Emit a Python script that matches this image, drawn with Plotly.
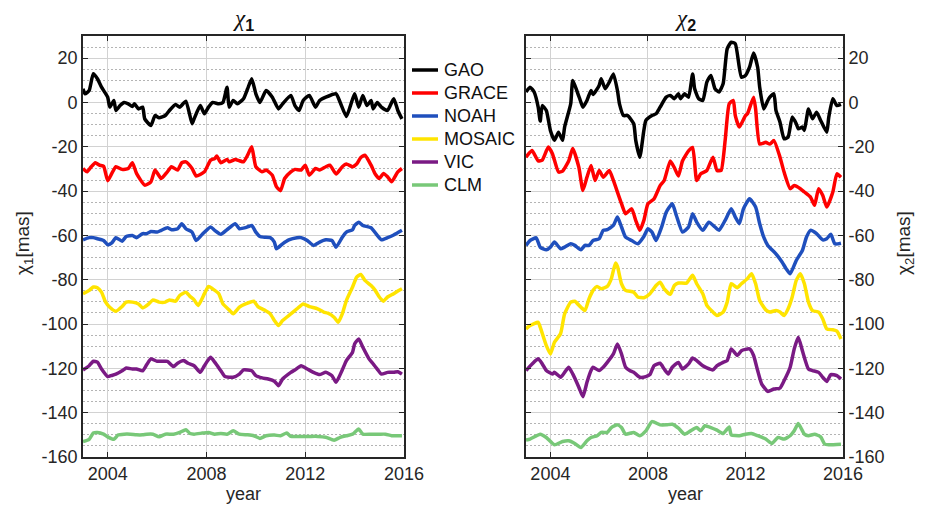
import plotly.graph_objects as go

# Monthly excitation series, stored as (months since Jan 2003, value in mas)
GAO_X1 = [(0, 6.2), (1, 3.9), (3, 5.4), (5, 13.0), (7, 10.7), (9, 6.9), (12, 2.4), (13, -2.1), (15, 0.9),
          (16, -3.6), (18, -1.4), (20, 0.0), (22, -0.6), (24, -1.8), (25, -0.6), (27, -2.9), (29, -2.1),
          (30, -7.4), (33, -10.4), (35, -5.9), (37, -6.9), (40, -5.9), (42, -3.6), (45, -0.9), (47, -2.1),
          (50, 0.6), (53, -9.6), (54, -7.4), (57, -1.4), (59, -5.1), (61, -2.1), (63, 0.0), (66, -0.6),
          (68, 0.0), (70, 6.9), (71, -2.1), (73, 0.9), (75, -0.6), (78, 1.7), (80, 6.2), (82, 10.7),
          (84, 3.9), (86, 0.0), (89, 5.4), (92, 2.4), (95, -2.9), (97, -0.6), (101, 3.2), (103, -1.4),
          (105, -3.6), (107, 0.9), (110, 3.2), (113, -2.1), (115, 0.9), (118, 2.4), (123, 3.9), (125, 0.0),
          (128, -6.3), (130, -1.4), (132, 3.9), (134, -2.1), (136, 3.2), (138, -1.4), (140, 0.9), (141, -2.9),
          (143, 0.0), (145, -2.1), (148, -3.6), (151, 1.7), (153, -3.6), (155, -7.4)]
GRACE_X1 = [(0, -29.8), (2, -31.3), (4, -29.0), (6, -27.2), (8, -28.3), (10, -28.8), (12, -35.3), (14, -32.0),
            (16, -29.0), (19, -30.2), (22, -29.8), (24, -27.2), (26, -32.0), (30, -37.3), (33, -35.8),
            (35, -30.5), (38, -34.3), (41, -31.3), (43, -29.0), (46, -30.5), (48, -27.2), (50, -26.8),
            (53, -29.8), (55, -33.2), (59, -31.3), (62, -26.0), (64, -25.3), (65, -24.2), (67, -27.2),
            (70, -25.7), (71, -26.8), (74, -25.7), (76, -26.3), (78, -26.8), (80, -23.8), (82, -20.0),
            (84, -29.0), (87, -31.3), (89, -30.5), (92, -32.8), (94, -38.0), (96, -39.8), (98, -34.3),
            (101, -31.3), (103, -30.2), (106, -30.5), (108, -28.3), (110, -32.8), (113, -29.8), (115, -30.5),
            (118, -29.0), (120, -28.3), (123, -32.3), (126, -29.0), (128, -27.8), (131, -29.0), (133, -27.8),
            (135, -24.8), (137, -23.8), (140, -28.3), (142, -32.3), (144, -34.3), (146, -32.0), (148, -33.5),
            (150, -35.8), (153, -31.3), (155, -29.8)]
NOAH_X1 = [(0, -62.0), (3, -61.0), (5, -61.0), (7, -61.5), (10, -62.3), (12, -64.2), (14, -63.4), (16, -61.0),
           (19, -62.6), (21, -60.5), (24, -60.0), (26, -61.0), (29, -59.2), (31, -59.2), (33, -58.2), (36, -58.5),
           (38, -57.7), (41, -56.5), (43, -57.4), (46, -57.0), (48, -54.7), (50, -57.0), (53, -58.5), (55, -62.3),
           (58, -59.5), (62, -56.2), (64, -57.7), (67, -59.5), (70, -57.4), (74, -54.7), (76, -57.0), (79, -56.5),
           (82, -55.5), (84, -58.5), (86, -60.5), (88, -60.8), (91, -61.0), (93, -63.0), (94, -66.0), (97, -63.8),
           (100, -62.0), (104, -61.0), (106, -61.0), (109, -62.3), (112, -64.5), (115, -63.0), (118, -62.0),
           (121, -62.3), (123, -65.3), (126, -60.8), (128, -58.5), (131, -57.4), (132, -55.5), (134, -54.0),
           (136, -55.5), (140, -56.5), (143, -60.0), (145, -62.0), (148, -61.0), (151, -59.8), (155, -57.7)]
MOSAIC_X1 = [(0, -86.3), (3, -84.8), (5, -83.3), (7, -83.6), (9, -85.6), (11, -90.1), (13, -92.4), (16, -94.2),
             (19, -92.1), (21, -90.1), (24, -90.1), (27, -90.9), (29, -92.7), (32, -90.9), (34, -89.1), (37, -90.1),
             (40, -90.1), (42, -89.1), (45, -89.7), (47, -87.1), (50, -85.6), (52, -87.5), (54, -89.1), (56, -91.6),
             (59, -86.3), (61, -83.0), (63, -84.1), (66, -86.3), (68, -90.9), (71, -93.6), (73, -95.4), (76, -92.4),
             (79, -90.9), (83, -89.7), (85, -92.1), (88, -93.6), (91, -95.4), (93, -98.4), (95, -100.7), (97, -98.4),
             (101, -95.4), (104, -93.1), (107, -90.9), (110, -92.1), (114, -93.1), (117, -94.6), (119, -95.1),
             (122, -96.9), (124, -99.2), (126, -95.4), (128, -89.4), (131, -83.3), (133, -78.8), (135, -77.6),
             (137, -80.3), (140, -82.6), (142, -84.8), (144, -87.8), (146, -89.7), (148, -87.8), (151, -86.3),
             (153, -85.1), (155, -84.1)]
VIC_X1 = [(0, -120.7), (3, -118.8), (5, -116.8), (7, -117.2), (9, -120.3), (12, -123.7), (14, -123.2),
          (16, -122.6), (19, -121.1), (21, -119.8), (24, -120.3), (26, -120.3), (29, -121.1), (31, -118.3),
          (33, -115.7), (36, -116.8), (39, -116.8), (41, -116.8), (44, -119.2), (46, -117.7), (49, -116.5),
          (51, -117.7), (54, -118.8), (57, -121.8), (59, -118.8), (62, -115.0), (64, -117.2), (67, -121.1),
          (69, -123.7), (73, -124.0), (76, -122.6), (78, -120.7), (82, -121.1), (84, -123.3), (87, -124.3),
          (90, -124.8), (93, -125.8), (95, -127.8), (97, -124.8), (101, -121.8), (103, -120.7), (106, -118.8),
          (109, -120.3), (112, -121.8), (115, -122.8), (118, -121.8), (121, -123.3), (123, -126.3), (126, -120.7),
          (128, -116.5), (131, -112.7), (132, -109.0), (134, -106.7), (136, -110.5), (139, -115.7), (141, -118.0),
          (143, -120.3), (145, -122.6), (148, -121.8), (151, -121.8), (153, -121.5), (155, -122.6)]
CLM_X1 = [(0, -153.0), (3, -152.0), (5, -149.2), (7, -148.9), (10, -149.7), (12, -150.9), (15, -152.0),
          (17, -150.1), (20, -149.7), (23, -149.7), (26, -150.0), (29, -150.0), (31, -149.7), (34, -149.7),
          (37, -150.9), (40, -149.7), (44, -149.7), (47, -148.9), (50, -147.7), (52, -149.4), (54, -149.7),
          (58, -149.2), (61, -148.9), (64, -149.7), (67, -149.4), (70, -149.7), (73, -148.2), (76, -149.7),
          (80, -150.0), (83, -150.4), (86, -151.6), (89, -150.4), (93, -150.1), (96, -150.4), (99, -149.2),
          (101, -150.7), (106, -150.7), (110, -150.7), (114, -150.7), (118, -151.1), (122, -152.4), (125, -151.1),
          (128, -150.4), (131, -149.7), (134, -147.4), (136, -149.7), (140, -149.7), (144, -149.7), (147, -149.7),
          (150, -150.4), (155, -150.4)]

GAO_X2 = [(0, 4.7), (2, 6.9), (4, 4.7), (6, -2.1), (7, -8.4), (8, -1.4), (10, -3.6), (12, -12.6), (14, -17.1),
          (16, -13.4), (18, -17.1), (19, -11.1), (22, -0.6), (23, 9.9), (25, 5.4), (27, 0.2), (28, -2.1), (30, 0.9),
          (32, 5.4), (33, 3.6), (36, 7.7), (37, 10.7), (39, 6.2), (41, 9.2), (43, 12.9), (45, 5.4), (46, -0.6),
          (48, -5.9), (50, -5.9), (53, -9.6), (54, -17.1), (56, -24.7), (58, -12.6), (59, -8.1), (62, -5.9),
          (64, -5.1), (66, -2.1), (69, 2.4), (71, 3.2), (73, 1.7), (75, 3.9), (76, 1.7), (78, 3.9), (80, 2.4),
          (82, 12.9), (83, 6.2), (85, 1.7), (87, 0.9), (89, 9.2), (91, 12.2), (93, 6.2), (95, 4.7), (97, 8.4),
          (99, 24.2), (101, 27.2), (103, 26.5), (106, 11.4), (108, 12.2), (110, 15.9), (112, 22.3), (114, 15.9),
          (115, 6.9), (117, -2.9), (119, 0.9), (120, 2.4), (122, 3.9), (123, -3.6), (125, -8.9), (127, -16.4),
          (129, -15.6), (131, -6.6), (133, -9.6), (134, -11.9), (136, -11.1), (137, -12.6), (139, -2.9),
          (141, -7.4), (143, -4.4), (145, -8.1), (148, -13.4), (149, -6.6), (151, 1.7), (153, -1.4), (155, -0.9)]
GRACE_X2 = [(0, -24.7), (3, -21.7), (6, -26.4), (8, -26.0), (11, -20.1), (13, -23.1), (16, -31.4), (18, -31.0),
            (21, -26.4), (23, -20.8), (26, -29.2), (28, -39.7), (30, -33.7), (32, -28.4), (34, -35.2), (36, -30.7),
            (38, -33.7), (41, -30.7), (43, -35.2), (47, -45.7), (49, -50.2), (52, -48.0), (54, -53.2), (56, -57.7),
            (58, -53.2), (60, -45.7), (63, -43.5), (66, -37.5), (68, -35.2), (71, -26.4), (73, -29.4), (75, -33.2),
            (77, -26.4), (80, -21.8), (82, -20.3), (84, -35.2), (86, -32.2), (89, -30.7), (92, -24.7), (94, -30.7),
            (96, -30.7), (98, -17.2), (100, -0.6), (102, 0.9), (103, -5.9), (105, -11.1), (108, -5.9), (109, -5.1),
            (112, 2.4), (113, -3.0), (115, -18.8), (118, -18.0), (120, -18.8), (122, -17.2), (125, -24.7),
            (127, -31.4), (130, -38.9), (132, -37.5), (135, -38.9), (137, -40.4), (140, -42.7), (142, -46.4),
            (144, -38.9), (146, -41.9), (148, -47.2), (151, -40.4), (153, -32.2), (155, -33.7)]
NOAH_X2 = [(0, -64.5), (2, -62.3), (5, -61.1), (7, -65.3), (10, -66.5), (12, -65.3), (14, -63.0), (17, -66.0),
           (19, -65.3), (22, -63.8), (24, -64.5), (27, -66.5), (29, -64.5), (31, -64.5), (33, -62.3), (36, -61.5),
           (38, -57.7), (40, -57.4), (43, -55.5), (45, -51.7), (47, -56.2), (49, -60.8), (52, -62.3), (55, -63.8),
           (58, -60.5), (60, -57.0), (62, -58.5), (64, -62.3), (67, -55.5), (69, -49.5), (72, -45.7), (74, -51.0),
           (77, -58.5), (80, -56.2), (82, -50.2), (84, -54.0), (87, -57.7), (90, -54.0), (93, -56.2), (95, -57.7),
           (98, -53.2), (101, -48.0), (103, -51.7), (105, -54.7), (107, -48.0), (110, -43.5), (113, -47.2),
           (115, -54.7), (117, -60.8), (119, -64.5), (123, -68.3), (126, -72.0), (128, -75.0), (130, -77.3),
           (133, -71.3), (136, -66.8), (138, -60.8), (140, -57.7), (143, -59.2), (146, -62.0), (148, -61.5),
           (150, -59.5), (152, -63.8), (155, -63.5)]
MOSAIC_X2 = [(0, -102.2), (2, -100.7), (6, -99.2), (7, -101.4), (10, -109.7), (12, -113.5), (14, -108.2),
             (17, -104.4), (19, -95.4), (22, -90.1), (24, -89.7), (27, -92.4), (29, -93.9), (31, -88.6), (33, -84.8),
             (35, -83.0), (37, -84.1), (40, -83.0), (42, -79.5), (44, -72.5), (45, -74.0), (47, -81.8), (49, -84.8),
             (53, -85.6), (55, -87.8), (58, -88.1), (61, -86.3), (64, -82.6), (66, -81.1), (68, -84.1), (71, -86.6),
             (73, -82.6), (75, -81.5), (79, -81.5), (82, -78.0), (84, -81.8), (87, -86.3), (89, -91.6), (92, -94.6),
             (94, -96.1), (97, -94.6), (99, -90.1), (101, -81.8), (104, -83.6), (106, -81.8), (109, -79.5),
             (111, -77.3), (113, -81.8), (115, -89.4), (118, -93.6), (120, -94.6), (123, -93.9), (125, -94.6),
             (127, -96.1), (129, -93.1), (131, -87.8), (133, -80.3), (135, -77.3), (137, -81.8), (139, -90.1),
             (141, -93.9), (144, -94.6), (146, -97.6), (148, -102.2), (151, -102.6), (153, -103.2), (155, -106.7)]
VIC_X2 = [(0, -121.0), (3, -118.0), (6, -115.7), (8, -118.0), (10, -121.0), (13, -122.5), (14, -121.8),
          (17, -124.0), (19, -121.8), (21, -119.5), (23, -122.5), (26, -128.5), (28, -132.8), (30, -126.3),
          (32, -121.0), (33, -119.5), (36, -121.0), (38, -119.5), (40, -117.3), (43, -113.5), (45, -109.0),
          (47, -113.5), (49, -119.5), (51, -121.0), (53, -121.8), (56, -124.0), (59, -123.7), (61, -122.8),
          (63, -118.8), (66, -117.7), (68, -120.3), (70, -122.5), (72, -119.5), (75, -117.3), (77, -120.3),
          (80, -118.0), (82, -115.3), (84, -116.5), (87, -118.8), (89, -119.8), (92, -120.7), (94, -118.8),
          (97, -117.3), (99, -116.5), (101, -111.2), (104, -114.2), (106, -112.0), (110, -111.2), (112, -114.2),
          (114, -121.0), (116, -127.1), (119, -130.4), (122, -129.3), (125, -128.9), (127, -125.6), (130, -119.5),
          (132, -111.2), (134, -105.9), (136, -112.0), (139, -120.3), (141, -121.0), (144, -121.8), (146, -124.0),
          (148, -125.9), (150, -122.8), (153, -123.3), (155, -124.8)]
CLM_X2 = [(0, -152.4), (2, -151.9), (7, -149.7), (10, -151.2), (14, -154.5), (18, -153.0), (21, -152.7),
          (24, -153.9), (27, -155.7), (30, -152.7), (32, -151.2), (35, -150.4), (37, -148.9), (40, -148.9),
          (42, -146.7), (45, -145.5), (47, -146.7), (49, -149.7), (53, -148.9), (56, -150.4), (59, -148.2),
          (62, -144.0), (66, -145.5), (69, -145.5), (72, -145.2), (75, -147.0), (78, -149.7), (81, -148.2),
          (84, -146.7), (86, -148.2), (88, -145.9), (91, -146.7), (94, -147.9), (97, -149.4), (100, -146.4),
          (101, -150.0), (105, -150.4), (108, -149.7), (111, -149.4), (114, -150.4), (118, -151.9), (121, -153.9),
          (124, -151.2), (127, -151.9), (130, -150.4), (132, -148.2), (134, -144.9), (137, -149.7), (139, -150.4),
          (142, -149.7), (145, -150.9), (147, -154.2), (149, -154.5), (155, -154.2)]

MODELS = ["GAO", "GRACE", "NOAH", "MOSAIC", "VIC", "CLM"]
COLORS = ["#000000", "#ff0000", "#1f4fbd", "#ffe400", "#7a1a84", "#78c878"]
SERIES_X1 = [GAO_X1, GRACE_X1, NOAH_X1, MOSAIC_X1, VIC_X1, CLM_X1]
SERIES_X2 = [GAO_X2, GRACE_X2, NOAH_X2, MOSAIC_X2, VIC_X2, CLM_X2]
YEAR_TICKS = [2004, 2008, 2012, 2016]
VALUE_TICKS = [-160, -140, -120, -100, -80, -60, -40, -20, 0, 20]

W, H = 926, 505
FONT = "Liberation Sans, Arial, sans-serif"
TXT = "#262626"
LINE_W = 3.5


def px(x):
    return x / W


def py(y):
    return 1 - y / H


fig = go.Figure()
for panel, series_set in ((1, SERIES_X1), (2, SERIES_X2)):
    for name, color, pairs in zip(MODELS, COLORS, series_set):
        years = [2003 + m / 12 for m, _ in pairs]
        vals = [v for _, v in pairs]
        fig.add_trace(go.Scatter(
            x=years, y=vals, mode="lines", name=name,
            line=dict(color=color, width=LINE_W, shape="spline", smoothing=0.5),
            xaxis="x" if panel == 1 else "x2",
            yaxis="y" if panel == 1 else "y2",
            showlegend=False,
        ))

common_x = dict(
    range=[2003, 2016], tickmode="array", tickvals=YEAR_TICKS, ticktext=[str(t) for t in YEAR_TICKS],
    ticks="inside", ticklen=5, tickwidth=1.2, automargin=False,
    tickcolor="#262626", showline=True, linecolor="#262626", linewidth=1.6, mirror="ticks",
    showgrid=True, gridcolor="#d2d2d2", gridwidth=1.3, zeroline=False,
    tickfont=dict(family=FONT, size=18, color=TXT),
)
common_y = dict(
    range=[-160, 30], tickmode="array", tickvals=VALUE_TICKS, ticktext=[str(t) for t in VALUE_TICKS],
    ticks="inside", ticklen=5, tickwidth=1.2, automargin=False,
    tickcolor="#262626", showline=True, linecolor="#262626", linewidth=1.6, mirror="ticks",
    showgrid=True, gridcolor="#d2d2d2", gridwidth=1.3, zeroline=False,
    tickfont=dict(family=FONT, size=18, color=TXT),
    minor=dict(tickmode="linear", dtick=5, tick0=0, showgrid=True, griddash="1.5px,2.5px",
               gridcolor="#b4b4b4", gridwidth=1.2, ticks=""),
)

fig.update_layout(
    width=W, height=H, autosize=False,
    margin=dict(l=0, r=0, t=0, b=0, pad=0, autoexpand=False),
    paper_bgcolor="white", plot_bgcolor="white",
    xaxis=dict(domain=[px(83), px(404)], anchor="y", **common_x),
    yaxis=dict(domain=[py(457), py(36)], anchor="x", side="left", **common_y),
    xaxis2=dict(domain=[px(526), px(843)], anchor="y2", **common_x),
    yaxis2=dict(domain=[py(457), py(36)], anchor="x2", side="right", **common_y),
    showlegend=False,
)

# Legend: line samples and model names stacked beside the first panel
shapes = []
annotations = []
for i, (name, color) in enumerate(zip(MODELS, COLORS)):
    yc = 70 + 23 * i
    shapes.append(dict(type="line", xref="paper", yref="paper", x0=px(412), x1=px(438),
                       y0=py(yc), y1=py(yc), line=dict(color=color, width=LINE_W)))
    annotations.append(dict(text=name, x=px(442), y=py(yc), xanchor="left", yanchor="middle",
                            font=dict(family=FONT, size=18, color="#111111")))

title_tpl = ("<span style='font-family:Liberation Serif'><i>χ</i></span>"
             "<sub><b>{}</b></sub>")
annotations += [
    dict(text=title_tpl.format(1), x=px(243), y=py(20), font=dict(family=FONT, size=23, color="#111111")),
    dict(text=title_tpl.format(2), x=px(685), y=py(20), font=dict(family=FONT, size=23, color="#111111")),
    dict(text="year", x=px(243), y=py(505), yanchor="bottom", borderpad=0,
         font=dict(family=FONT, size=18, color=TXT)),
    dict(text="year", x=px(685), y=py(505), yanchor="bottom", borderpad=0,
         font=dict(family=FONT, size=18, color=TXT)),
    dict(text="χ<sub>1</sub>[mas]", x=px(24), y=py(243), textangle=-90, font=dict(family=FONT, size=19, color=TXT)),
    dict(text="χ<sub>2</sub>[mas]", x=px(905), y=py(243), textangle=-90, font=dict(family=FONT, size=19, color=TXT)),
]
for a in annotations:
    a.update(xref="paper", yref="paper", showarrow=False)
    a.setdefault("xanchor", "center")
    a.setdefault("yanchor", "middle")
fig.update_layout(annotations=annotations, shapes=shapes)

fig.write_html("out.html",
               post_script="document.body.style.margin='0';document.body.style.overflow='hidden';")
